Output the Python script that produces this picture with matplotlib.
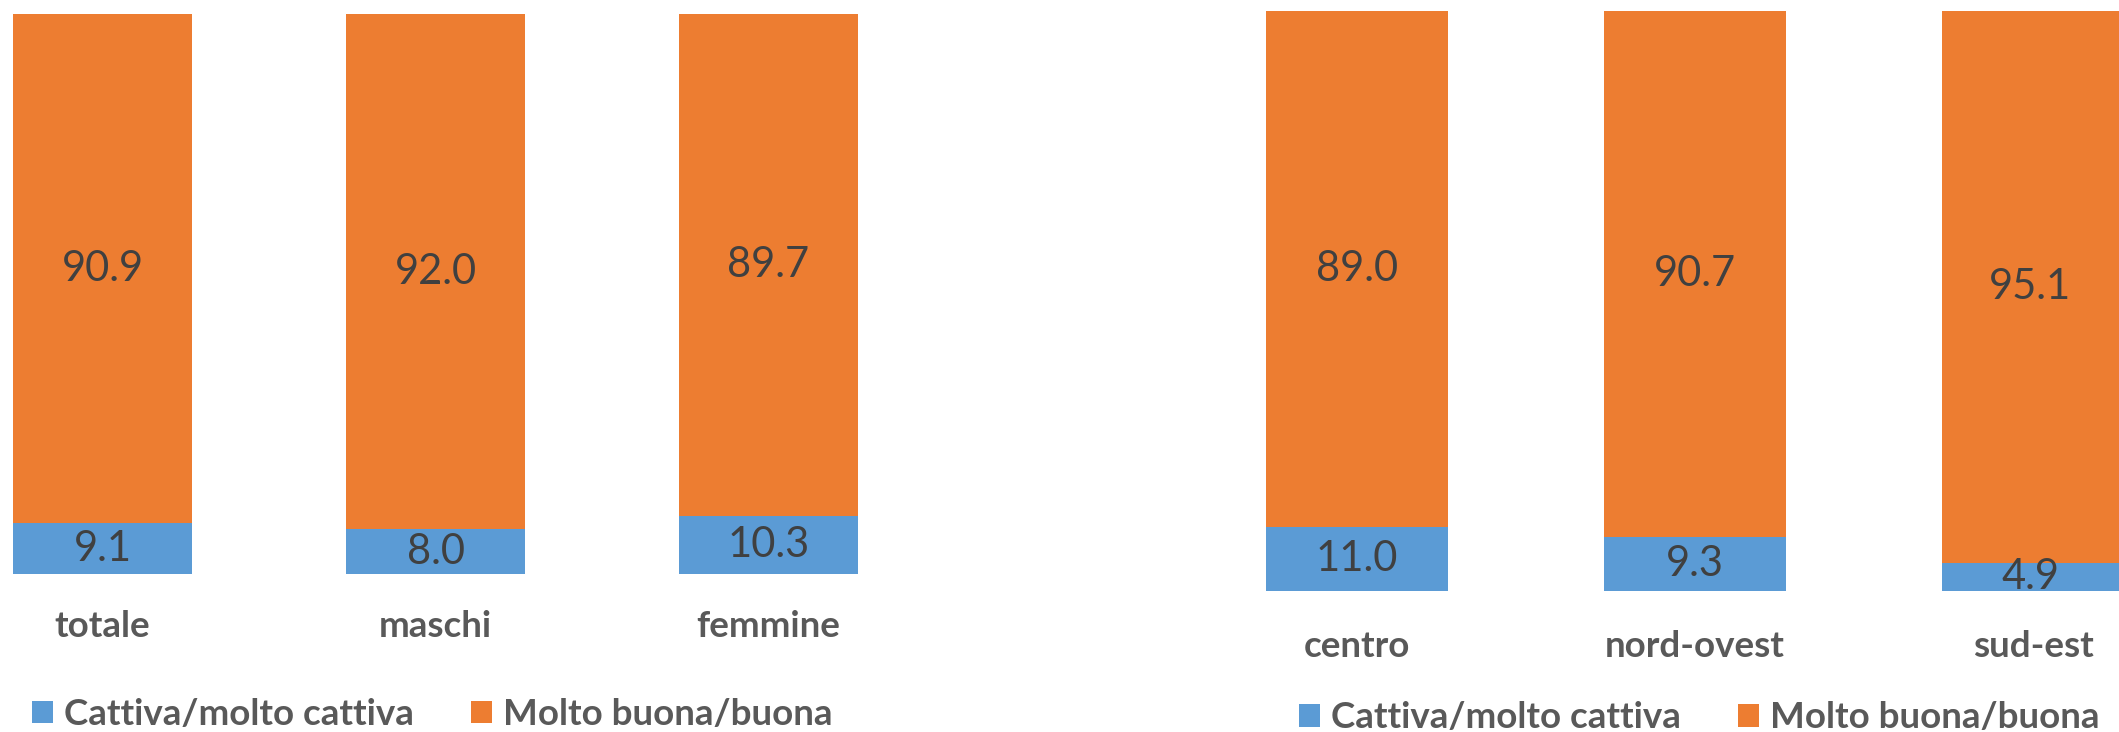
import matplotlib
matplotlib.use("Agg")
import matplotlib.pyplot as plt

# dati: salute percepita (%)
cat_left = ['totale', 'maschi', 'femmine']
cattiva_left = [9.1, 8.0, 10.3]
buona_left = [90.9, 92.0, 89.7]

cat_right = ['centro', 'nord-ovest', 'sud-est']
cattiva_right = [11.0, 9.3, 4.9]
buona_right = [89.0, 90.7, 95.1]

series_names = ['Cattiva/molto cattiva', 'Molto buona/buona']

BLUE = '#5B9BD5'
ORANGE = '#ED7D31'
LABEL_GREY = '#595959'
VALUE_GREY = '#404040'

plt.rcParams['font.family'] = ['Lato', 'DejaVu Sans']

W, H = 2119, 732
fig = plt.figure(figsize=(W / 100, H / 100), dpi=100)


def draw_panel(ax, cats, low, high, first_px, spacing, ax_left_px, ax_width_px, pad, leg_x, leg_y):
    x = list(range(len(cats)))
    b1 = ax.bar(x, low, width=0.54, color=BLUE, label=series_names[0])
    b2 = ax.bar(x, high, width=0.54, bottom=low, color=ORANGE, label=series_names[1])
    ax.bar_label(b1, labels=['%.1f' % v for v in low], label_type='center',
                 fontsize=30, color=VALUE_GREY)
    ax.bar_label(b2, labels=['%.1f' % v for v in high], label_type='center',
                 fontsize=30, color=VALUE_GREY)

    # x limits so that bar centres land where they are in the original
    a = -(first_px - ax_left_px) / spacing
    ax.set_xlim(a, a + ax_width_px / spacing)
    ax.set_ylim(0, 100)

    ax.set_xticks(x)
    ax.set_xticklabels(cats, fontsize=26.5, fontweight='bold', color=LABEL_GREY)
    ax.tick_params(axis='x', length=0, pad=pad)
    ax.set_yticks([])
    for s in ax.spines.values():
        s.set_visible(False)

    leg = ax.legend(loc='center left', bbox_to_anchor=(leg_x / W, 1 - leg_y / H),
                    bbox_transform=fig.transFigure, ncol=2, frameon=False,
                    borderpad=0, borderaxespad=0, handlelength=0.57, handleheight=0.57,
                    handletextpad=0.3, columnspacing=1.55,
                    prop={'size': 26.5, 'weight': 'bold'})
    for t in leg.get_texts():
        t.set_color(LABEL_GREY)


# pannello sinistro
ax1 = fig.add_axes([0, 1 - 574 / H, 1000 / W, (574 - 14) / H])
draw_panel(ax1, cat_left, cattiva_left, buona_left, 102.5, 333, 0, 1000, 26, 32, 714.5)

# pannello destro
ax2 = fig.add_axes([1100 / W, 1 - 591 / H, 1019 / W, (591 - 11) / H])
draw_panel(ax2, cat_right, cattiva_right, buona_right, 1357, 338, 1100, 1019, 28, 1299, 718)

fig.savefig('out.png', dpi=100)
